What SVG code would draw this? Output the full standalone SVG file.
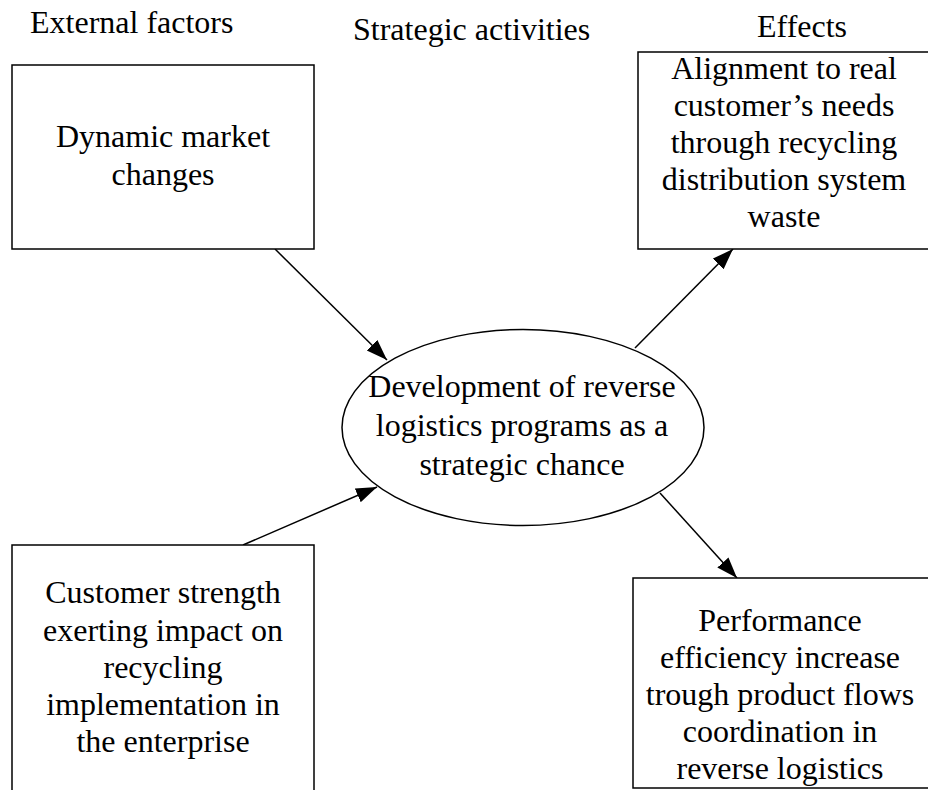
<svg xmlns="http://www.w3.org/2000/svg" width="928" height="790" viewBox="0 0 928 790">
<style>
text{font-family:"Liberation Serif","Times New Roman",serif;font-size:32px;fill:#000;text-anchor:middle}
.hdr{text-anchor:start}
.box{fill:#fff;stroke:#000;stroke-width:1.5}
.conn{stroke:#000;stroke-width:1.5;fill:none;marker-end:url(#arr)}
</style>
<defs>
<marker id="arr" markerUnits="userSpaceOnUse" markerWidth="22" markerHeight="16" refX="21" refY="7.5" orient="auto">
<path d="M0,0 L21,7.5 L0,15 z" fill="#000"/>
</marker>
</defs>
<rect width="928" height="790" fill="#fff"/>
<g id="headers">
<text class="hdr" x="30" y="33">External factors</text>
<text class="hdr" x="353" y="40">Strategic activities</text>
<text class="hdr" x="757" y="37">Effects</text>
</g>
<g id="connectors">
<line class="conn" x1="275" y1="249" x2="387" y2="360"/>
<line class="conn" x1="635" y1="348" x2="733" y2="249"/>
<line class="conn" x1="243" y1="545" x2="377" y2="487"/>
<line class="conn" x1="660" y1="493" x2="737" y2="578"/>
</g>
<g id="dynamic">
<rect class="box" x="12" y="65" width="302" height="184"/>
<text x="163" y="147">Dynamic market</text>
<text x="163" y="185">changes</text>
</g>
<g id="alignment">
<rect class="box" x="638" y="52" width="294" height="197"/>
<text x="784" y="79">Alignment to real</text>
<text x="784" y="116">customer’s needs</text>
<text x="784" y="153">through recycling</text>
<text x="784" y="190">distribution system</text>
<text x="784" y="227">waste</text>
</g>
<g id="center">
<ellipse class="box" cx="523" cy="427.5" rx="181" ry="98"/>
<text x="522" y="397">Development of reverse</text>
<text x="522" y="436">logistics programs as a</text>
<text x="522" y="475">strategic chance</text>
</g>
<g id="customer">
<rect class="box" x="12" y="545" width="302" height="260"/>
<text x="163" y="603">Customer strength</text>
<text x="163" y="641">exerting impact on</text>
<text x="163" y="678">recycling</text>
<text x="163" y="715">implementation in</text>
<text x="163" y="752">the enterprise</text>
</g>
<g id="performance">
<rect class="box" x="633" y="578" width="297" height="210"/>
<text x="780" y="631">Performance</text>
<text x="780" y="668">efficiency increase</text>
<text x="780" y="705">trough product flows</text>
<text x="780" y="742">coordination in</text>
<text x="780" y="779">reverse logistics</text>
</g>
</svg>
